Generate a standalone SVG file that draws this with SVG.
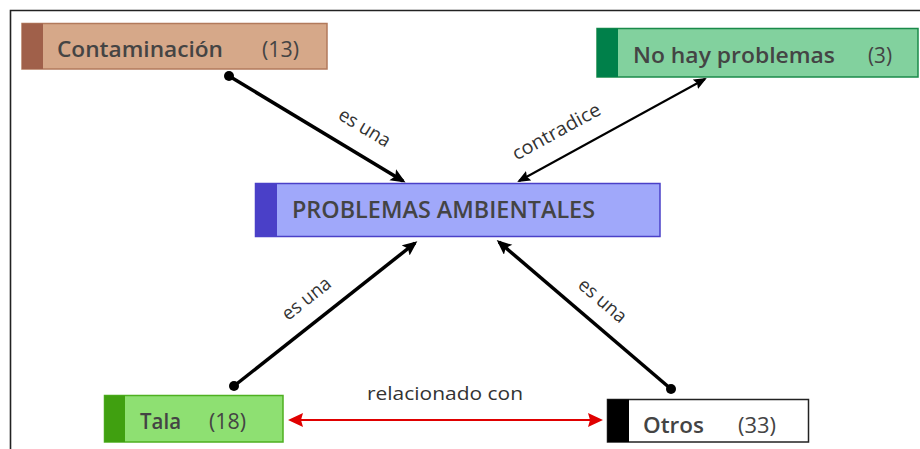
<svg xmlns="http://www.w3.org/2000/svg" width="920" height="449" viewBox="0 0 920 449">
<style>
.name{font-family:"Open Sans","Noto Sans",sans-serif;font-weight:600;fill:#444;}
.num{font-family:"Open Sans","Noto Sans",sans-serif;font-weight:400;fill:#444;font-size:21px;}
.lbl{font-family:"Open Sans","Noto Sans",sans-serif;font-size:19px;fill:#333;text-anchor:middle;dominant-baseline:central;}
.thick{stroke:#000;stroke-width:3.5;fill:none;}
.thin{stroke:#000;stroke-width:2;fill:none;}
.red{stroke:#e00000;stroke-width:2;fill:none;}
</style>
<defs>
<marker id="ah" markerUnits="userSpaceOnUse" markerWidth="16" markerHeight="14" refX="12" refY="6.5" orient="auto-start-reverse" viewBox="0 0 16 14">
<path d="M0,0 L15,6.5 L0,13 L3,6.5 z" fill="#000"/>
</marker>
<marker id="ahs" markerUnits="userSpaceOnUse" markerWidth="14" markerHeight="12" refX="11" refY="5.5" orient="auto-start-reverse" viewBox="0 0 14 12">
<path d="M0,0 L13,5.5 L0,11 L2,5.5 z" fill="#000"/>
</marker>
<marker id="ahr" markerUnits="userSpaceOnUse" markerWidth="16" markerHeight="16" refX="13" refY="7" orient="auto-start-reverse" viewBox="0 0 16 16">
<path d="M0,0 L15,7 L0,14 L2,7 z" fill="#e00000"/>
</marker>
</defs>
<rect x="0" y="0" width="920" height="449" fill="#fff"/>
<path d="M10.5,449 L10.5,10.5 L920,10.5" stroke="#222" stroke-width="1.6" fill="none"/>

<g id="connectors">
<line class="thick" x1="229" y1="76" x2="403" y2="181" marker-end="url(#ah)"/>
<circle cx="229" cy="76" r="5" fill="#000"/>
<line class="thin" x1="519" y1="181" x2="705" y2="79" marker-start="url(#ahs)" marker-end="url(#ahs)"/>
<line class="thick" x1="234" y1="386" x2="415" y2="243" marker-end="url(#ah)"/>
<circle cx="234" cy="386" r="5" fill="#000"/>
<line class="thick" x1="671" y1="389" x2="499" y2="242" marker-end="url(#ah)"/>
<circle cx="671" cy="389" r="5" fill="#000"/>
<line class="red" x1="290" y1="420" x2="601" y2="420" marker-start="url(#ahr)" marker-end="url(#ahr)"/>
<text class="lbl" transform="translate(365,127) rotate(31)" textLength="57" lengthAdjust="spacingAndGlyphs">es una</text>
<text class="lbl" transform="translate(556,131) rotate(-28.7)" textLength="98" lengthAdjust="spacingAndGlyphs">contradice</text>
<text class="lbl" transform="translate(306,298) rotate(-38.4)" textLength="57" lengthAdjust="spacingAndGlyphs">es una</text>
<text class="lbl" transform="translate(603,300) rotate(40.6)" textLength="57" lengthAdjust="spacingAndGlyphs">es una</text>
<text class="lbl" x="445" y="393" textLength="156" lengthAdjust="spacingAndGlyphs">relacionado con</text>
</g>

<g id="contaminacion">
<rect x="22" y="23.5" width="305" height="45.5" fill="#d6a889" stroke="#b27a5c" stroke-width="1.5"/>
<rect x="22" y="23.5" width="21" height="45.5" fill="#a0604a"/>
<text class="name" x="57" y="57" font-size="22" textLength="166" lengthAdjust="spacingAndGlyphs">Contaminación</text>
<text class="num" x="262" y="57" textLength="37" lengthAdjust="spacingAndGlyphs">(13)</text>
</g>

<g id="no-hay-problemas">
<rect x="597" y="28.5" width="321" height="48.5" fill="#82d19e" stroke="#1a8a4a" stroke-width="1.5"/>
<rect x="597" y="28.5" width="21" height="48.5" fill="#00804a"/>
<text class="name" x="633" y="63" font-size="22" textLength="202" lengthAdjust="spacingAndGlyphs">No hay problemas</text>
<text class="num" x="868" y="63" textLength="24" lengthAdjust="spacingAndGlyphs">(3)</text>
</g>

<g id="problemas-ambientales">
<rect x="255.5" y="183.5" width="404.5" height="53" fill="#a0a8fa" stroke="#4a40c8" stroke-width="1.5"/>
<rect x="255.5" y="183.5" width="21.5" height="53" fill="#4a40c8"/>
<text class="name" x="292" y="218" font-size="23" textLength="303" lengthAdjust="spacingAndGlyphs">PROBLEMAS AMBIENTALES</text>
</g>

<g id="tala">
<rect x="104.5" y="395.5" width="178.5" height="46.5" fill="#8ee072" stroke="#4eb020" stroke-width="1.5"/>
<rect x="104.5" y="395.5" width="20.5" height="46.5" fill="#40a010"/>
<text class="name" x="140" y="429" font-size="22" textLength="41" lengthAdjust="spacingAndGlyphs">Tala</text>
<text class="num" x="209" y="429" textLength="37" lengthAdjust="spacingAndGlyphs">(18)</text>
</g>

<g id="otros">
<rect x="607.5" y="399.5" width="201" height="42.5" fill="#fff" stroke="#222" stroke-width="1.5"/>
<rect x="607.5" y="399.5" width="21.5" height="42.5" fill="#000"/>
<text class="name" x="643" y="433" font-size="22" textLength="61" lengthAdjust="spacingAndGlyphs">Otros</text>
<text class="num" x="738" y="433" textLength="38" lengthAdjust="spacingAndGlyphs">(33)</text>
</g>
</svg>
